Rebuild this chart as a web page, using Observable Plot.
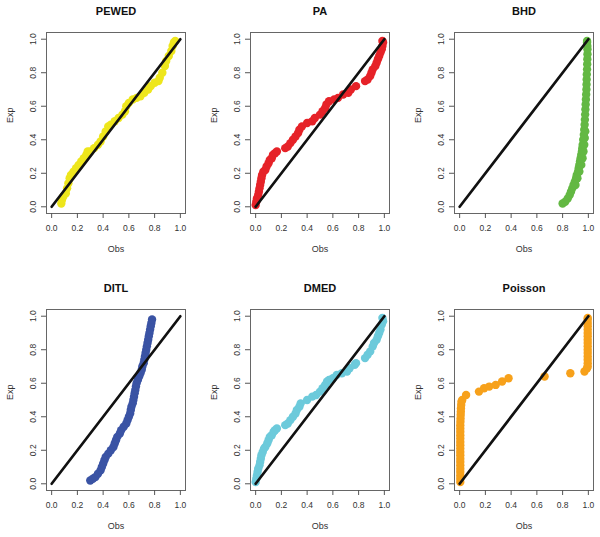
<!DOCTYPE html>
<html><head><meta charset="utf-8">
<script src="https://cdn.jsdelivr.net/npm/d3@7"></script>
<script src="https://cdn.jsdelivr.net/npm/@observablehq/plot@0.6"></script>
<style>
body{margin:0;background:#fff;overflow:hidden}
#chart{position:relative;width:600px;height:537px;font-family:"Liberation Sans",Arial,sans-serif}
#chart>div{position:absolute}
</style></head><body><div id="chart"></div>
<script>
const titles = ["PEWED", "PA", "BHD", "DITL", "DMED", "Poisson"];
const colors = ["#EEE61C", "#E62228", "#63B843", "#3A53A4", "#6CCADB", "#F7A11B"];
const ticks = [0, 0.2, 0.4, 0.6, 0.8, 1];
const refLine = [0, 1];
const xLabel = "Obs";
const yLabel = "Exp";

const pewedObs = [0.075,0.08,0.09,0.11,0.12,0.13,0.14,0.15,0.17,0.19,0.21,0.23,0.25,0.27,0.28,0.30,0.33,0.36,0.38,0.40,0.42,0.44,0.46,0.49,0.52,0.55,0.57,0.58,0.60,0.63,0.66,0.69,0.72,0.75,0.77,0.80,0.83,0.84,0.86,0.88,0.89,0.91,0.93,0.94,0.95,0.96];
const pewedExp = [0.02,0.04,0.06,0.08,0.11,0.14,0.17,0.19,0.21,0.23,0.25,0.27,0.29,0.31,0.33,0.33,0.35,0.37,0.39,0.42,0.45,0.48,0.49,0.51,0.53,0.55,0.57,0.60,0.62,0.64,0.65,0.66,0.68,0.70,0.72,0.74,0.75,0.77,0.80,0.84,0.87,0.90,0.93,0.96,0.98,0.99];

const paObs = [0.00,0.005,0.01,0.02,0.025,0.03,0.035,0.04,0.045,0.05,0.06,0.075,0.085,0.10,0.11,0.125,0.135,0.15,0.165,0.23,0.25,0.27,0.29,0.31,0.33,0.34,0.36,0.40,0.44,0.46,0.50,0.52,0.54,0.55,0.57,0.61,0.64,0.68,0.72,0.74,0.78,0.85,0.87,0.89,0.90,0.91,0.93,0.94,0.95,0.96,0.97,0.98,0.985,0.99,0.985];
const paExp = [0.01,0.03,0.05,0.07,0.09,0.11,0.13,0.15,0.17,0.19,0.21,0.22,0.24,0.26,0.28,0.29,0.31,0.32,0.33,0.35,0.36,0.38,0.40,0.42,0.44,0.46,0.48,0.50,0.51,0.53,0.55,0.57,0.59,0.61,0.63,0.64,0.65,0.67,0.68,0.70,0.72,0.75,0.76,0.78,0.80,0.82,0.84,0.86,0.88,0.90,0.92,0.94,0.96,0.98,0.99];

const bhdObs = [0.80,0.82,0.84,0.855,0.865,0.875,0.885,0.895,0.905,0.91,0.92,0.925,0.93,0.935,0.94,0.945,0.95,0.953,0.956,0.96,0.965,0.968,0.971,0.973,0.975,0.977,0.979,0.981,0.983,0.985,0.986,0.987,0.988,0.99,0.991,0.992,0.993,0.993,0.992,0.99,0.99,0.90,0.915,0.93,0.945,0.955,0.962,0.968,0.972,0.976];
const bhdExp = [0.02,0.03,0.05,0.07,0.09,0.11,0.13,0.15,0.17,0.19,0.21,0.23,0.25,0.27,0.29,0.31,0.33,0.35,0.37,0.40,0.43,0.46,0.49,0.52,0.55,0.58,0.61,0.64,0.67,0.70,0.73,0.76,0.79,0.82,0.85,0.88,0.91,0.94,0.96,0.98,0.99,0.13,0.17,0.21,0.25,0.29,0.33,0.37,0.41,0.45];

const ditlObs = [0.30,0.32,0.34,0.36,0.38,0.39,0.40,0.41,0.42,0.44,0.46,0.48,0.49,0.50,0.51,0.53,0.54,0.56,0.58,0.59,0.60,0.61,0.615,0.62,0.63,0.635,0.64,0.645,0.65,0.655,0.66,0.67,0.68,0.69,0.70,0.705,0.715,0.72,0.725,0.73,0.735,0.74,0.745,0.75,0.755,0.76,0.765,0.77,0.775,0.78];
const ditlExp = [0.02,0.03,0.04,0.06,0.08,0.10,0.12,0.14,0.16,0.18,0.20,0.22,0.24,0.26,0.28,0.30,0.32,0.34,0.36,0.38,0.40,0.42,0.44,0.46,0.48,0.50,0.52,0.54,0.56,0.58,0.60,0.62,0.64,0.66,0.68,0.70,0.72,0.74,0.76,0.78,0.80,0.82,0.84,0.86,0.88,0.90,0.92,0.94,0.96,0.98];

const dmedObs = [0.00,0.005,0.01,0.015,0.02,0.03,0.035,0.04,0.045,0.055,0.065,0.075,0.09,0.10,0.11,0.125,0.14,0.15,0.165,0.23,0.25,0.27,0.29,0.31,0.32,0.34,0.35,0.40,0.44,0.47,0.50,0.52,0.54,0.555,0.57,0.60,0.63,0.67,0.71,0.73,0.77,0.78,0.85,0.87,0.89,0.91,0.92,0.94,0.95,0.96,0.97,0.98,0.99,0.985];
const dmedExp = [0.01,0.03,0.05,0.07,0.09,0.11,0.13,0.15,0.17,0.19,0.21,0.22,0.24,0.26,0.28,0.29,0.31,0.32,0.33,0.35,0.36,0.38,0.40,0.42,0.44,0.46,0.48,0.50,0.52,0.53,0.55,0.57,0.59,0.61,0.62,0.63,0.65,0.66,0.67,0.69,0.71,0.72,0.75,0.77,0.79,0.82,0.84,0.86,0.88,0.90,0.92,0.95,0.97,0.99];

const poissonObs = [0.005,0.005,0.005,0.005,0.005,0.005,0.005,0.005,0.005,0.005,0.005,0.005,0.005,0.005,0.005,0.005,0.005,0.005,0.006,0.007,0.008,0.009,0.01,0.012,0.014,0.02,0.05,0.15,0.19,0.23,0.28,0.33,0.38,0.66,0.86,0.97,0.99,0.995,0.995,0.995,0.995,0.995,0.995,0.995,0.995,0.995,0.995,0.995,0.995,0.995,0.995,0.995,0.995];
const poissonExp = [0.01,0.03,0.05,0.07,0.09,0.11,0.13,0.15,0.17,0.19,0.21,0.23,0.25,0.27,0.29,0.31,0.33,0.35,0.37,0.39,0.41,0.43,0.45,0.47,0.49,0.50,0.53,0.55,0.57,0.58,0.59,0.61,0.63,0.64,0.66,0.67,0.69,0.70,0.72,0.74,0.76,0.78,0.80,0.82,0.84,0.86,0.88,0.90,0.92,0.94,0.96,0.98,0.99];

const obsSeries = [pewedObs, paObs, bhdObs, ditlObs, dmedObs, poissonObs];
const expSeries = [pewedExp, paExp, bhdExp, ditlExp, dmedExp, poissonExp];

const colLeft = [0, 204, 408];
const colWidth = [204, 204, 192];
const rowTop = [0, 277];
const rowHeight = [268, 260];
const boxW = 139, boxH = 181, mL = 46, mT = 32;
const font = '"Liberation Sans", Arial, Helvetica, sans-serif';

const chart = document.getElementById("chart");
titles.forEach((title, i) => {
  const col = i % 3, row = Math.floor(i / 3);
  const width = colWidth[col], height = rowHeight[row];
  const data = obsSeries[i].map((o, j) => ({obs: o, exp: expSeries[i][j]}));
  const svg = Plot.plot({
    width, height,
    marginLeft: mL, marginRight: width - mL - boxW,
    marginTop: mT, marginBottom: height - mT - boxH,
    x: {domain: [-0.04, 1.04]},
    y: {domain: [-0.04, 1.04]},
    style: {fontFamily: font, color: "#333", background: "#fff", overflow: "visible"},
    marks: [
      Plot.dot(data, {x: "obs", y: "exp", r: 4.2, fill: colors[i], stroke: "none"}),
      Plot.line(refLine, {x: d => d, y: d => d, stroke: "#111", strokeWidth: 2.7}),
      Plot.frame({stroke: "#666", strokeWidth: 1}),
      Plot.axisX(ticks, {tickSize: 5, tickPadding: 6, tickFormat: d3.format(".1f"), fontSize: 8.5, stroke: "#555", fill: "#333", label: null}),
      Plot.axisY(ticks, {tickSize: 5, tickPadding: 6, tickRotate: -90, tickFormat: d3.format(".1f"), fontSize: 8.5, stroke: "#555", fill: "#333", label: null}),
      Plot.text([title], {text: d => d, frameAnchor: "top", dy: -21, lineAnchor: "middle", fontWeight: "bold", fontSize: 11, fill: "#111"}),
      Plot.text([xLabel], {text: d => d, frameAnchor: "bottom", dy: 36, lineAnchor: "middle", fontSize: 9, fill: "#333"}),
      Plot.text([yLabel], {text: d => d, frameAnchor: "left", dx: -36, rotate: -90, lineAnchor: "middle", fontSize: 9, fill: "#333"})
    ]
  });
  const div = document.createElement("div");
  div.style.left = colLeft[col] + "px";
  div.style.top = rowTop[row] + "px";
  div.appendChild(svg);
  chart.appendChild(div);
});
</script>
</body></html>
